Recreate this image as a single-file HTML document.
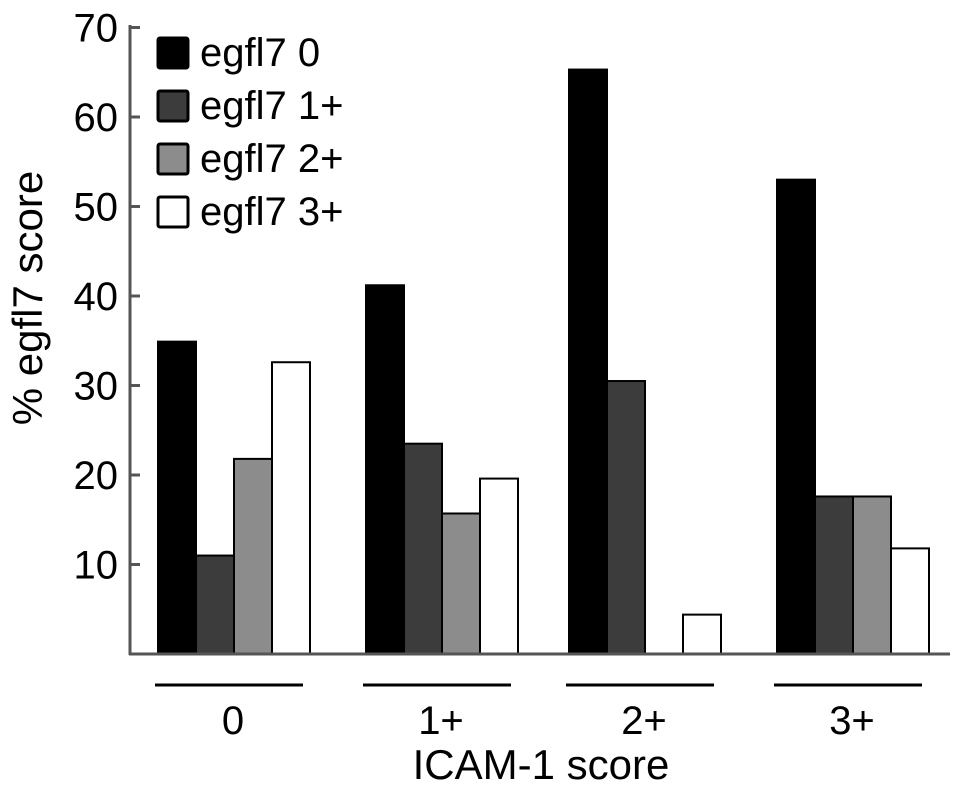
<!DOCTYPE html>
<html><head><meta charset="utf-8"><style>
html,body{margin:0;padding:0;background:#fff;}
svg text{font-family:"Liberation Sans",Arial,sans-serif;fill:#000;}
</style></head><body>
<svg id="chart" width="969" height="787" viewBox="0 0 969 787" xmlns="http://www.w3.org/2000/svg"></svg>
<script>
const categories = ["0","1+","2+","3+"];
const seriesNames = ["egfl7 0","egfl7 1+","egfl7 2+","egfl7 3+"];
const s0 = [34.9, 41.2, 65.3, 53.0];
const s1 = [11.0, 23.5, 30.5, 17.6];
const s2 = [21.8, 15.7, 0, 17.6];
const s3 = [32.6, 19.6, 4.4, 11.8];
const yTicks = [10,20,30,40,50,60,70];
const series = [s0,s1,s2,s3];
const fills = ["#000000","#3c3c3c","#8c8c8c","#ffffff"];
const NS="http://www.w3.org/2000/svg";
const svg=document.getElementById('chart');
function y(v){return 654 - v*8.95;}
const groupStart=[158,366,569,777], barW=38;
function x(gi,si){return groupStart[gi]+si*barW;}
function mk(t,a,txt){const e=document.createElementNS(NS,t);for(const k in a)e.setAttribute(k,a[k]);if(txt!==undefined)e.textContent=txt;svg.appendChild(e);return e;}
series.forEach((s,si)=>{s.forEach((v,gi)=>{
 if(v<=0)return;
 const r=mk('rect',{x:x(gi,si),y:y(v),width:barW,height:y(0)-y(v),fill:fills[si],stroke:'#000','stroke-width':2});
 
 
});});
let a=mk('line',{x1:130,y1:25,x2:130,y2:655,stroke:'#555','stroke-width':3});

a=mk('line',{x1:129,y1:654,x2:950,y2:654,stroke:'#555','stroke-width':3});

yTicks.forEach(t=>{
 const l=mk('line',{x1:130,y1:y(t),x2:140,y2:y(t),stroke:'#555','stroke-width':3});
 
 const tx=mk('text',{x:118,y:y(t)+14,'text-anchor':'end','font-size':40},String(t));
 
});
categories.forEach((c,gi)=>{
 const x0=groupStart[gi]-3, x1=groupStart[gi]+145;
 const l=mk('line',{x1:x0,y1:685,x2:x1,y2:685,stroke:'#000','stroke-width':3});
 
 const t=mk('text',{x:(x0+x1)/2+4,y:734,'text-anchor':'middle','font-size':40},c);
 
});
let t=mk('text',{x:541,y:779,'text-anchor':'middle','font-size':42},'ICAM-1 score');

t=mk('text',{x:0,y:0,'text-anchor':'middle','font-size':42,transform:'translate(42,298) rotate(-90)'},'% egfl7 score');

seriesNames.forEach((n,i)=>{
 const yy=38+i*53;
 const r=mk('rect',{x:158,y:yy,width:30,height:30,fill:fills[i],stroke:'#000','stroke-width':3,rx:2});
 
 const tx=mk('text',{x:200,y:yy+28,'font-size':40},n);
 
});
</script>
</body></html>
